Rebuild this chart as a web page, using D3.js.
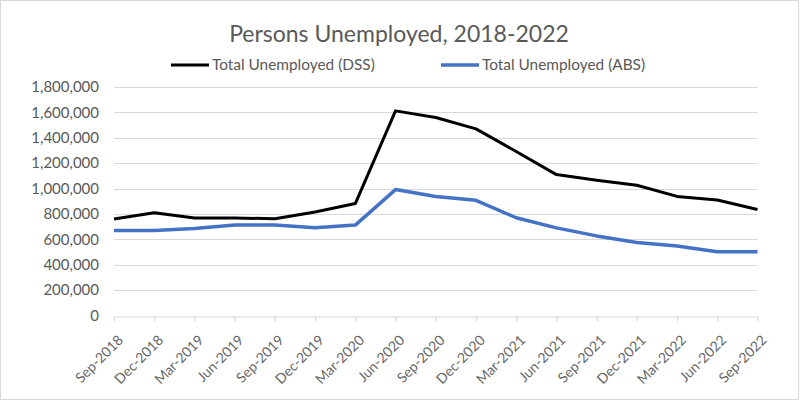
<!DOCTYPE html>
<html>
<head>
<meta charset="utf-8">
<script src="https://cdn.jsdelivr.net/npm/d3@7"></script>
<style>
  body { margin: 0; background: #fff; }
  svg { display: block; font-family: Lato, "Open Sans", sans-serif; }
</style>
</head>
<body>
<svg id="chart" width="800" height="401"></svg>
<script>
// quarters along the x axis
var quarters = ["Sep-2018", "Dec-2018", "Mar-2019", "Jun-2019", "Sep-2019", "Dec-2019",
	"Mar-2020", "Jun-2020", "Sep-2020", "Dec-2020", "Mar-2021", "Jun-2021",
	"Sep-2021", "Dec-2021", "Mar-2022", "Jun-2022", "Sep-2022"];

var dssValues = [760000, 810000, 768000, 768000, 762000, 815000, 882000, 1612000, 1560000,
	1470000, 1292000, 1110000, 1065000, 1026000, 938000, 910000, 835000];
var absValues = [669000, 669000, 685000, 713000, 712000, 692000, 712000, 992000, 938000,
	907000, 770000, 690000, 627000, 575000, 547000, 502000, 502000];

var yTicks = [0, 200000, 400000, 600000, 800000, 1000000, 1200000, 1400000, 1600000, 1800000];

var seriesList = [
	{name: "Total Unemployed (DSS)", values: dssValues, color: "#000000", width: 3},
	{name: "Total Unemployed (ABS)", values: absValues, color: "#4472C4", width: 3.5}
];

var svg = d3.select("#chart");
var textColor = "#595959",
	gridColor = "#d9d9d9";

// outer frame
svg.append("rect")
	.attr("x", 0.5).attr("y", 0.5)
	.attr("width", 798).attr("height", 399)
	.attr("fill", "#fff")
	.attr("stroke", gridColor);

var x = d3.scalePoint().domain(quarters).range([114, 757.5]);
var y = d3.scaleLinear().domain([0, 1800000]).range([315.5, 87]);

// gridlines
svg.append("g").selectAll("line")
	.data(yTicks.filter(function(d) {return d > 0;}))
	.enter().append("line")
		.attr("x1", 114).attr("x2", 757.5)
		.attr("y1", function(d) {return Math.round(y(d)) + 0.5;})
		.attr("y2", function(d) {return Math.round(y(d)) + 0.5;})
		.attr("stroke", gridColor)
		.attr("stroke-width", 1.2);

// y axis labels
var yAxis = d3.axisLeft(y).tickValues(yTicks).tickSize(0).tickPadding(15)
	.tickFormat(d3.format(","));
svg.append("g")
	.attr("transform", "translate(114,0)")
	.call(yAxis)
	.call(function(g) {g.select(".domain").remove();})
	.selectAll("text")
		.attr("fill", textColor)
		.style("font-size", "15px")
		.style("font-family", "Lato, sans-serif");

// x axis
var xAxis = d3.axisBottom(x).tickSize(5).tickSizeOuter(0);
var xg = svg.append("g")
	.attr("transform", "translate(0," + (Math.round(y(0)) + 0.5) + ")")
	.call(xAxis);
xg.select(".domain").attr("stroke", gridColor).attr("stroke-width", 1.2);
xg.selectAll(".tick line").attr("stroke", gridColor).attr("stroke-width", 1.2);
xg.selectAll("text")
	.attr("fill", "#666")
	.style("font-size", "14px")
	.style("font-family", "Lato, sans-serif")
	.attr("text-anchor", "end")
	.attr("x", 0).attr("y", 0)
	.attr("dy", "0.35em")
	.attr("transform", "translate(6,21) rotate(-45)");

// lines
var line = d3.line()
	.x(function(d, i) {return x(quarters[i]);})
	.y(function(d) {return y(d);});

seriesList.forEach(function(s) {
	svg.append("path")
		.datum(s.values)
		.attr("fill", "none")
		.attr("stroke", s.color)
		.attr("stroke-width", s.width)
		.attr("stroke-linejoin", "round")
		.attr("d", line);
});

// title
svg.append("text")
	.attr("x", 399).attr("y", 42)
	.attr("text-anchor", "middle")
	.attr("fill", textColor)
	.style("font-size", "23px")
	.text("Persons Unemployed, 2018-2022");

// legend
var legendX = [171, 441];
var legend = svg.append("g").selectAll("g")
	.data(seriesList)
	.enter().append("g")
		.attr("transform", function(d, i) {return "translate(" + legendX[i] + ",65)";});
legend.append("line")
	.attr("x1", 0).attr("x2", 38)
	.attr("stroke", function(d) {return d.color;})
	.attr("stroke-width", function(d) {return d.width;});
legend.append("text")
	.attr("x", 41).attr("dy", "0.35em")
	.attr("fill", textColor)
	.style("font-size", "15.4px")
	.text(function(d) {return d.name;});
</script>
</body>
</html>
